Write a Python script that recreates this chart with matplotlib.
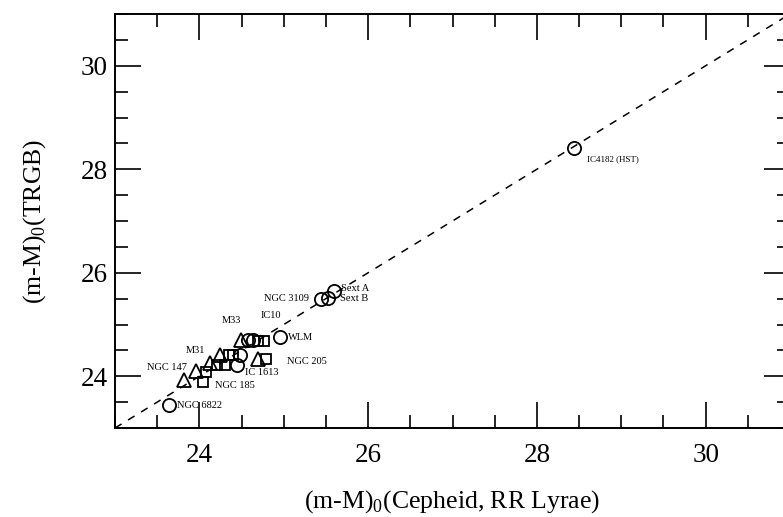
import matplotlib
matplotlib.use("Agg")
import matplotlib.pyplot as plt
from matplotlib.ticker import MultipleLocator

plt.rcParams['font.family'] = ['Liberation Serif', 'DejaVu Serif']
plt.rcParams['mathtext.fontset'] = 'custom'
plt.rcParams['mathtext.rm'] = 'Liberation Serif'

# Data: (m-M)0 Cepheid/RR Lyrae (x) vs (m-M)0 TRGB (y)
circ_x = [23.64, 24.44, 24.48, 24.58, 24.64, 24.96, 25.44, 25.53, 25.59, 28.44]
circ_y = [23.44, 24.21, 24.42, 24.70, 24.70, 24.76, 25.50, 25.52, 25.65, 28.42]

tri_x = [23.82, 23.96, 24.13, 24.25, 24.49, 24.70]
tri_y = [23.92, 24.10, 24.26, 24.42, 24.70, 24.34]

sq_x = [24.04, 24.08, 24.21, 24.30, 24.35, 24.40, 24.70, 24.77, 24.79]
sq_y = [23.88, 24.09, 24.21, 24.21, 24.42, 24.42, 24.69, 24.68, 24.34]

labels = ["NGC 6822", "NGC 185", "NGC 147", "M31", "IC 1613", "NGC 205",
          "M33", "IC10", "WLM", "NGC 3109", "Sext A", "Sext B", "IC4182 (HST)"]
label_x = [23.74, 24.18, 23.38, 23.84, 24.54, 25.04,
           24.26, 24.73, 25.05, 24.76, 25.68, 25.67, 28.59]
label_y = [23.44, 23.83, 24.16, 24.49, 24.08, 24.28,
           25.07, 25.17, 24.74, 25.50, 25.69, 25.50, 28.19]

line_x = [23, 31]
line_y = [23, 31]

fig = plt.figure(figsize=(7.83, 5.17), dpi=100)
ax = fig.add_axes([115/783, 1 - 428/517, 675/783, 414/517])

ax.plot(line_x, line_y, ls=(0, (5, 5)), color='black', lw=1.1)
ax.plot(circ_x, circ_y, 'o', ms=9.5, mfc='none', mec='black', mew=1.3)
ax.plot(tri_x, tri_y, '^', ms=9.5, mfc='none', mec='black', mew=1.3)
ax.plot(sq_x, sq_y, 's', ms=7.5, mfc='none', mec='black', mew=1.3)

for t, x, y in zip(labels, label_x, label_y):
    fs = 6.5 if 'HST' in t else 7.5
    ax.text(x, y, t, fontsize=fs, ha='left', va='center', color='black')

ax.set_xlim(23, 31)
ax.set_ylim(23, 31)
for a in (ax.xaxis, ax.yaxis):
    a.set_major_locator(MultipleLocator(2))
    a.set_minor_locator(MultipleLocator(0.5))
ax.tick_params(which='both', direction='in', top=True, right=True,
               labelsize=19.5, width=1.2)
ax.tick_params(axis='x', which='both', pad=11)
ax.tick_params(axis='y', which='both', pad=5)
ax.tick_params(which='major', length=19)
ax.tick_params(which='minor', length=9.5)
for s in ax.spines.values():
    s.set_linewidth(1.4)

ax.set_xlabel(r'(m-M)$_{\mathrm{0}}$(Cepheid, RR Lyrae)', fontsize=18.5, labelpad=14)
ax.set_ylabel(r'(m-M)$_{\mathrm{0}}$(TRGB)', fontsize=18.5, labelpad=24)

fig.savefig('out.png', dpi=100)
